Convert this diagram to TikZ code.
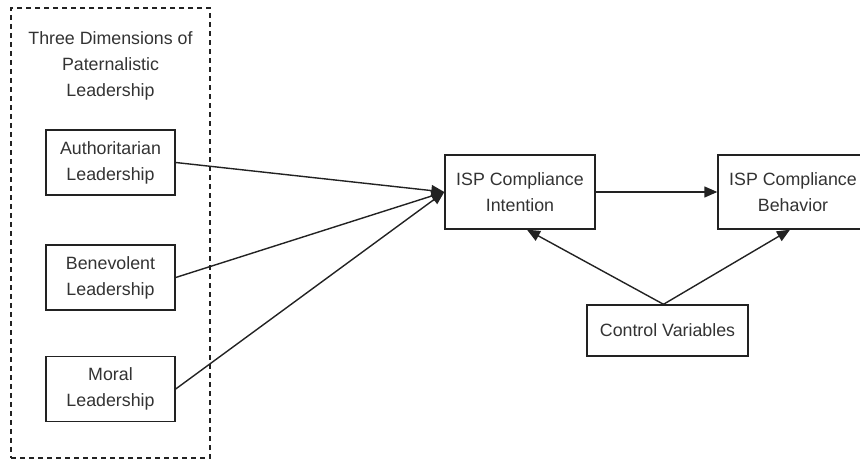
\documentclass[tikz,border=0pt]{standalone}
\usepackage{fontspec}
\setmainfont{Liberation Sans}
\usetikzlibrary{arrows.meta}
\definecolor{ink}{HTML}{222222}
\definecolor{txt}{HTML}{333333}
\begin{document}
\begin{tikzpicture}[x=1pt,y=-1pt,
  box/.style={draw=ink, line width=1.4pt, fill=white, align=center, text=txt,
    inner sep=0pt, font=\fontsize{17.8}{26}\selectfont},
  link/.style={draw=ink, line width=1.4pt, -{Triangle[length=13pt,width=11pt]}}]
\useasboundingbox (0,0) rectangle (860,462);
% dashed frame round the three leadership dimensions
\node[draw=ink, line width=1.4pt, dash pattern=on 5pt off 4pt,
  minimum width=199pt, minimum height=450pt, inner sep=0pt] (frame) at (110.5,233) {};
\node[align=center, text=txt, font=\fontsize{17.8}{26}\selectfont] (title) at (110.5,66)
  {Three Dimensions of\\Paternalistic\\Leadership};
% the three dimensions
\node[box, minimum width=129pt, minimum height=65pt] (auth) at (110.5,162.5) {Authoritarian\\Leadership};
\node[box, minimum width=129pt, minimum height=65pt] (bene) at (110.5,277.5) {Benevolent\\Leadership};
\node[box, minimum width=129pt, minimum height=65pt] (moral) at (110.5,389) {Moral\\Leadership};
% outcomes
\node[box, minimum width=150pt, minimum height=74pt] (intent) at (520,192) {ISP Compliance\\Intention};
\node[box, minimum width=150pt, minimum height=74pt] (behav) at (793,192) {ISP Compliance\\Behavior};
\node[box, minimum width=161pt, minimum height=51pt] (ctrl) at (667.5,330.5) {Control Variables};
% paths
\draw[link] (auth.east) -- (intent.west);
\draw[link] (bene.east) -- (intent.west);
\draw[link] (moral.east) -- (intent.west);
\draw[link] (intent.east) -- (behav.west);
\coordinate (ctop) at ([xshift=-4pt]ctrl.north);
\draw[link] (ctop) -- ([xshift=7pt]intent.south);
\draw[link] (ctop) -- ([xshift=-3pt]behav.south);
\end{tikzpicture}
\end{document}
